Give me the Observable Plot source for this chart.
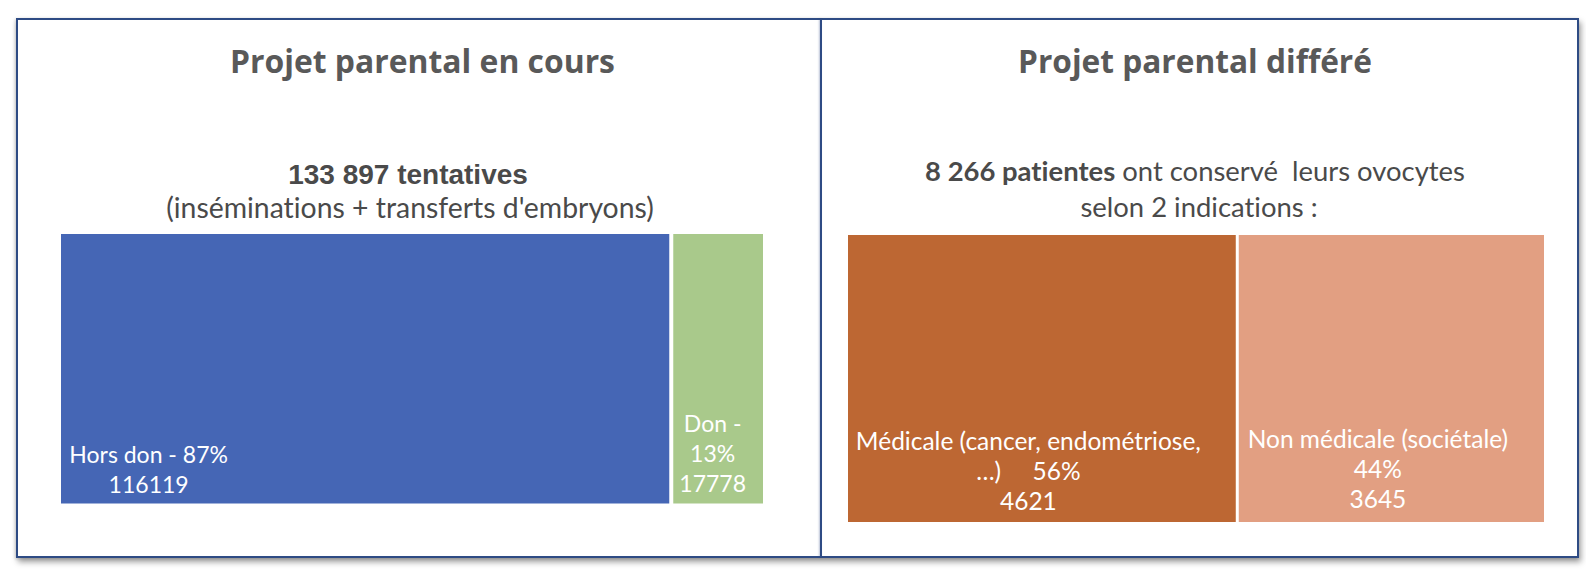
<!DOCTYPE html>
<html>
<head>
<meta charset="utf-8">
<script src="https://cdn.jsdelivr.net/npm/d3@7"></script>
<script src="https://cdn.jsdelivr.net/npm/@observablehq/plot@0.6"></script>
<style>
  html, body { margin: 0; padding: 0; background: #ffffff; }
  #wrap { position: relative; width: 1586px; height: 574px; overflow: hidden; background: #fff; }
  .frame { position: absolute; left: 16px; top: 18px; width: 1563px; height: 540px; box-sizing: border-box;
           border: 2px solid #2E4B84; box-shadow: 2px 4px 6px rgba(0,0,0,0.38), -1px 1px 3px rgba(0,0,0,0.15); background: #fff; }
  .divider { position: absolute; left: 820px; top: 19px; width: 2px; height: 538px; background: #2E4B84;
             box-shadow: -1px 0 2px rgba(46,75,132,0.35); }
  .txt { position: absolute; white-space: pre; font-variant-ligatures: none; font-feature-settings: "liga" 0, "clig" 0; }
  .title { font-family: "Open Sans", sans-serif; font-weight: 700; font-size: 28px; line-height: 1.362; color: #595959; }
  .big { font-family: "Liberation Sans", Arial, sans-serif; font-weight: 700; font-size: 28px; line-height: 1.117; color: #4a4a4a; }
  .sub { font-family: Lato, sans-serif; font-weight: 400; font-size: 27px; line-height: 1.2; color: #4a4a4a; }
  .sub b { font-weight: 700; }
  .plotbox { position: absolute; top: 0; }
  .plotbox text { font-variant-ligatures: none; }
</style>
</head>
<body>
<div id="wrap">
  <div class="frame"></div>
  <div class="divider"></div>
  <div id="leftPlot" class="plotbox" style="left:0px"></div>
  <div id="rightPlot" class="plotbox" style="left:821px"></div>
</div>
<script>
// ---- Data ----
const leftTitle = "Projet parental en cours";
const rightTitle = "Projet parental différé";
const leftHeadline = "133 897 tentatives";
const leftSubline = "(inséminations + transferts d'embryons)";
const rightHeadlineBold = "8 266 patientes";
const rightHeadlineRest = " ont conservé  leurs ovocytes";
const rightSubline = "selon 2 indications :";

const leftCategories = ["Hors don", "Don"];
const leftValues = [116119, 17778];
const leftLabels = ["Hors don - 87%\n116119", "Don -\n13%\n17778"];

const rightCategories = ["Médicale (cancer, endométriose, …)", "Non médicale (sociétale)"];
const rightValues = [4621, 3645];
const rightLabels = ["Médicale (cancer, endométriose,\n…)     56%\n4621", "Non médicale (sociétale)\n44%\n3645"];

// ---- Styles ----
const leftColors = ["#4566B5", "#A9C98B"];
const rightColors = ["#BD6733", "#E29F82"];

const wrap = document.getElementById("wrap");
function esc(s) { return s.replace(/&/g, "&amp;").replace(/</g, "&lt;"); }
function addText(cls, html, center, baseline, asc, targetWidth, forceSize) {
  const d = document.createElement("div");
  d.className = "txt " + cls;
  const s = document.createElement("span");
  s.innerHTML = html;
  d.appendChild(s);
  wrap.appendChild(d);
  let size = parseFloat(getComputedStyle(d).fontSize);
  if (forceSize) { size = forceSize; d.style.fontSize = size + "px"; }
  else if (targetWidth) {
    const w0 = s.getBoundingClientRect().width;
    size = size * targetWidth / w0;
    d.style.fontSize = size + "px";
  }
  const w = s.getBoundingClientRect().width;
  d.style.left = (center - w / 2) + "px";
  d.style.top = (baseline - asc * size) + "px";
  return size;
}

addText("title", esc(leftTitle), 422.5, 73, 1.069, 385);
addText("title", esc(rightTitle), 1195, 73, 1.069, 354);
addText("big", esc(leftHeadline), 408, 184, 0.905);
addText("sub", esc(leftSubline), 410, 218, 0.987, 488);
const rs = addText("sub", "<b>" + esc(rightHeadlineBold) + "</b>" + esc(rightHeadlineRest), 1195, 182, 0.987, 540);
addText("sub", esc(rightSubline), 1199, 218, 0.987, null, rs);

function panel({values, labels, colors, width, height, margin, inset, dx, dy, fontSize}) {
  const total = d3.sum(values);
  const starts = Array.from(d3.cumsum([0, ...values])).slice(0, -1);
  const rows = values.map((v, i) => ({i, value: v, label: labels[i], start: starts[i], end: starts[i] + v, mid: starts[i] + v / 2}));
  return Plot.plot({
    width, height,
    marginLeft: margin[0], marginRight: margin[1], marginTop: margin[2], marginBottom: margin[3],
    style: "background: transparent; overflow: visible;",
    x: {domain: [0, total], axis: null},
    marks: [
      Plot.barX(rows, {x1: "start", x2: "end", fill: d => colors[d.i], insetLeft: inset, insetRight: inset}),
      ...rows.map((r, k) => Plot.text([r], {
        x: "mid", text: "label", frameAnchor: "bottom", lineAnchor: "bottom",
        dx: dx[k], dy: dy[k], fill: "#ffffff", fontFamily: "Lato, sans-serif", fontSize, lineHeight: 30 / fontSize
      }))
    ]
  });
}

document.getElementById("leftPlot").appendChild(panel({
  values: leftValues, labels: leftLabels, colors: leftColors,
  width: 821, height: 574, margin: [59, 56, 234, 70.5], inset: 2,
  dx: [-217, -6], dy: [-11.5, -12.5], fontSize: 23
}));
document.getElementById("rightPlot").appendChild(panel({
  values: rightValues, labels: rightLabels, colors: rightColors,
  width: 765, height: 574, margin: [25.5, 40.5, 235, 52], inset: 1.5,
  dx: [-14, -14], dy: [-13, -15], fontSize: 24.5
}));
</script>
</body>
</html>
